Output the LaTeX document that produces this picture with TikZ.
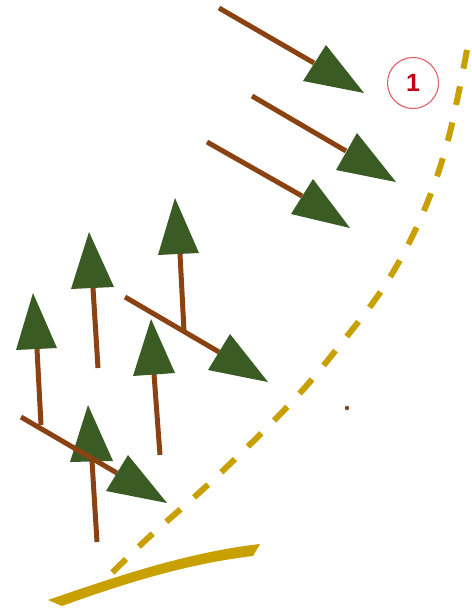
\documentclass[tikz,border=0pt]{standalone}
\usepackage{fontspec}
\setsansfont{Liberation Sans}
\definecolor{bark}{RGB}{139,66,18}
\definecolor{leaf}{RGB}{58,92,36}
\definecolor{gold}{RGB}{200,160,0}
\definecolor{ringred}{RGB}{225,95,105}
\definecolor{numred}{RGB}{195,0,20}
\begin{document}
\begin{tikzpicture}[x=1pt,y=-1pt,
  trunk/.style={draw=bark,line width=5pt},
  crown/.style={fill=leaf},
  slope/.style={draw=gold,line width=6pt,dash pattern=on 19pt off 18pt}]
\useasboundingbox (0,0) rectangle (471,610);

% slope line and ground
\draw[slope] plot[smooth,tension=0.6] coordinates {(467,50) (448,140) (423,213) (387,282) (340,345) (289,405) (213,480) (148,538) (110,575)};
\fill[gold] (48,600) .. controls (120,575) and (190,552) .. (260,544) -- (253,556) .. controls (185,564) and (120,585) .. (62,606) -- cycle;
\fill[bark] (347,408) circle (2.2);

% fallen trees, top
\draw[trunk] (219,8) -- (314,63);
\fill[crown] (326,45) -- (303,81) -- (364,93) -- cycle;
\draw[trunk] (252,96) -- (346,151);
\fill[crown] (357,133) -- (336,170) -- (396,182) -- cycle;
\draw[trunk] (207,142) -- (302,196);
\fill[crown] (313,179) -- (291,214) -- (350,228) -- cycle;

% standing trees
\draw[trunk] (180,254) -- (184,331);
\fill[crown] (175,198) -- (158,255) -- (199,253) -- cycle;
\draw[trunk] (93,288) -- (98,368);
\fill[crown] (89,232) -- (71,289) -- (114,287) -- cycle;
\draw[trunk] (37,349) -- (41,425);
\fill[crown] (33,293) -- (16,350) -- (57,348) -- cycle;
\draw[trunk] (154,374) -- (160,455);
\fill[crown] (151,319) -- (133,376) -- (175,373) -- cycle;
\draw[trunk] (92,461) -- (97,542);
\fill[crown] (88,405) -- (70,462) -- (113,461) -- cycle;

% fallen trees, lower
\draw[trunk] (125,297) -- (219,352);
\fill[crown] (230,334) -- (208,370) -- (268,382) -- cycle;
\draw[trunk] (21,417) -- (117,473);
\fill[crown] (128,455) -- (106,491) -- (167,503) -- cycle;

\node[draw=ringred,line width=1.1pt,circle,minimum size=51pt,inner sep=0pt,
  text=numred,font=\sffamily\bfseries\fontsize{25}{25}\selectfont] (num) at (413,83) {1};
\end{tikzpicture}
\end{document}
